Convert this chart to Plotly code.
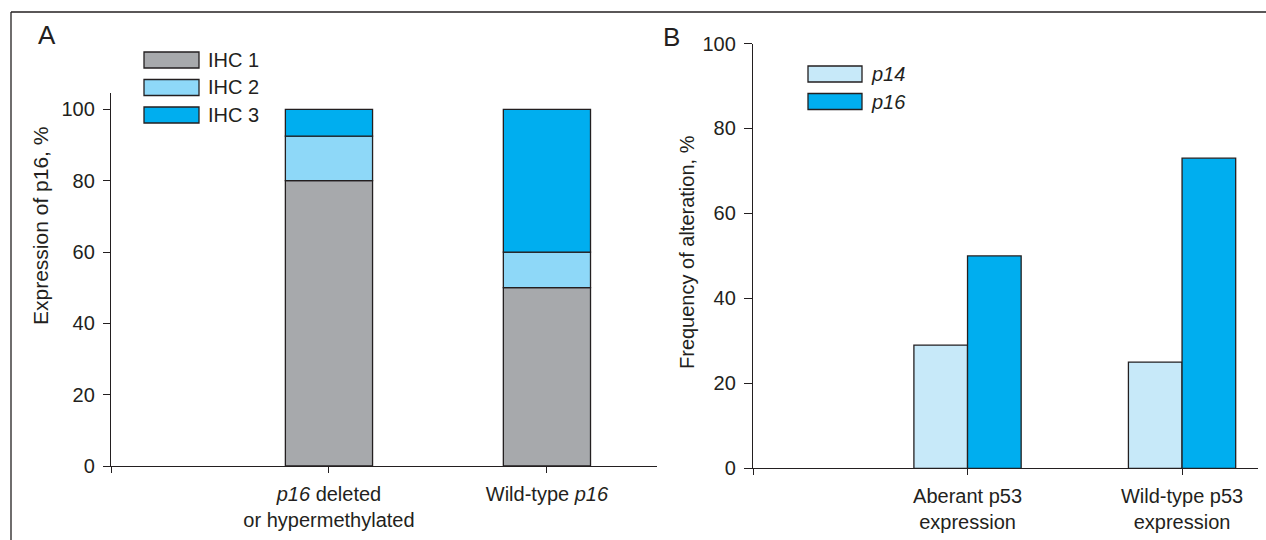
import plotly.graph_objects as go

W, H = 1266, 540
FONT = "Liberation Sans, Arial, Helvetica, sans-serif"
INK = "#231F20"

# ---------------- Data ----------------
# Panel A: expression of p16 (stacked, %)
a_categories = ["<i>p16</i> deleted<br>or hypermethylated", "Wild-type <i>p16</i>"]
a_series_names = ["IHC 1", "IHC 2", "IHC 3"]
a_ihc1 = [80, 50]
a_ihc2 = [12.5, 10]
a_ihc3 = [7.5, 40]
a_yticks = [0, 20, 40, 60, 80, 100]

# Panel B: frequency of alteration (grouped, %)
b_categories = ["Aberant p53<br>expression", "Wild-type p53<br>expression"]
b_series_names = ["<i>p14</i>", "<i>p16</i>"]
b_p14 = [29, 25]
b_p16 = [50, 73]
b_yticks = [0, 20, 40, 60, 80, 100]

# ---------------- Styles ----------------
a_colors = ["#A7A9AC", "#8ED8F8", "#00AEEF"]
b_colors = ["#C7E9F9", "#00AEEF"]


def px(x):
    return x / W


def py(y):
    return 1 - y / H


fig = go.Figure()

# Panel A stacked bars (base computed from the series)
a_pos = [i + 1 for i in range(len(a_categories))]
a_series = [a_ihc1, a_ihc2, a_ihc3]
base = [0] * len(a_categories)
for name, vals, col in zip(a_series_names, a_series, a_colors):
    fig.add_trace(go.Bar(
        x=a_pos, y=vals, base=list(base), name=name,
        marker=dict(color=col, line=dict(color=INK, width=1.3)),
        width=0.4, xaxis="x", yaxis="y", showlegend=False,
    ))
    base = [b + v for b, v in zip(base, vals)]

# Panel B grouped bars
b_pos = [i + 1 for i in range(len(b_categories))]
for k, (name, vals, col) in enumerate(zip(b_series_names, [b_p14, b_p16], b_colors)):
    fig.add_trace(go.Bar(
        x=b_pos, y=vals, name=name,
        marker=dict(color=col, line=dict(color=INK, width=1.3)),
        width=0.25, offset=-0.25 + 0.25 * k, xaxis="x2", yaxis="y2", showlegend=False,
    ))

axis_common = dict(
    showline=True, linecolor=INK, linewidth=1.3, showgrid=False, zeroline=False,
    ticks="outside", tickcolor=INK, tickwidth=1.3, tickfont=dict(size=20, color=INK, family=FONT),
    fixedrange=True, automargin=False,
)

fig.update_layout(
    template="none",
    width=W, height=H,
    margin=dict(l=0, r=0, t=0, b=0, pad=0),
    paper_bgcolor="white", plot_bgcolor="white",
    barmode="overlay",
    font=dict(family=FONT, color=INK, size=20),
    showlegend=False,
    xaxis=dict(
        domain=[px(111), px(657)], range=[0, 2.505], anchor="y",
        tickvals=[0] + a_pos, ticktext=[""] + a_categories, ticklen=6, ticklabelstandoff=4,
        **axis_common,
    ),
    yaxis=dict(
        domain=[py(466), py(93)], range=[0, 104.6], anchor="x",
        tickvals=a_yticks, ticklen=7, ticklabelstandoff=4,
        **axis_common,
    ),
    xaxis2=dict(
        domain=[px(753), px(1258)], range=[0, 2.354], anchor="y2",
        tickvals=[0] + b_pos, ticktext=[""] + b_categories, ticklen=6, ticklabelstandoff=4,
        **axis_common,
    ),
    yaxis2=dict(
        domain=[py(468.3), py(43.5)], range=[0, 100], anchor="x2",
        tickvals=b_yticks, ticklen=8, ticklabelstandoff=4,
        **axis_common,
    ),
)

shapes = []
annotations = []

# Frame lines
shapes.append(dict(type="line", xref="paper", yref="paper", x0=px(11), x1=1, y0=py(12), y1=py(12),
                   line=dict(color=INK, width=1.3)))
shapes.append(dict(type="line", xref="paper", yref="paper", x0=px(11), x1=px(11), y0=py(12), y1=0,
                   line=dict(color=INK, width=1.3)))

# Panel labels
annotations.append(dict(text="A", x=px(47), y=py(35), xref="paper", yref="paper", showarrow=False,
                        xanchor="center", yanchor="middle", font=dict(size=26, color=INK, family=FONT)))
annotations.append(dict(text="B", x=px(671), y=py(37), xref="paper", yref="paper", showarrow=False,
                        xanchor="center", yanchor="middle", font=dict(size=26, color=INK, family=FONT)))

# Axis titles
annotations.append(dict(text="Expression of p16, %", x=px(40), y=py(226), xref="paper", yref="paper",
                        showarrow=False, textangle=-90, xanchor="center", yanchor="middle",
                        font=dict(size=21, color=INK, family=FONT)))
annotations.append(dict(text="Frequency of alteration, %", x=px(687), y=py(252), xref="paper", yref="paper",
                        showarrow=False, textangle=-90, xanchor="center", yanchor="middle",
                        font=dict(size=20, color=INK, family=FONT)))

# Custom legends (large swatches)
a_leg_top = [52, 79.5, 107]
for name, col, top in zip(a_series_names, a_colors, a_leg_top):
    shapes.append(dict(type="rect", xref="paper", yref="paper", x0=px(144), x1=px(199),
                       y0=py(top + 16), y1=py(top), fillcolor=col, line=dict(color=INK, width=1.3)))
    annotations.append(dict(text=name, x=px(206), y=py(top + 8), xref="paper", yref="paper",
                            showarrow=False, xanchor="left", yanchor="middle",
                            font=dict(size=20, color=INK, family=FONT)))

b_leg_top = [66, 93.5]
for name, col, top in zip(b_series_names, b_colors, b_leg_top):
    shapes.append(dict(type="rect", xref="paper", yref="paper", x0=px(808), x1=px(862),
                       y0=py(top + 16), y1=py(top), fillcolor=col, line=dict(color=INK, width=1.3)))
    annotations.append(dict(text=name, x=px(869), y=py(top + 8), xref="paper", yref="paper",
                            showarrow=False, xanchor="left", yanchor="middle",
                            font=dict(size=20, color=INK, family=FONT)))

fig.update_layout(shapes=shapes, annotations=annotations)

fig.write_html(
    "out.html",
    config={"displayModeBar": False},
    post_script="document.body.style.margin='0';document.body.style.overflow='hidden';",
)
